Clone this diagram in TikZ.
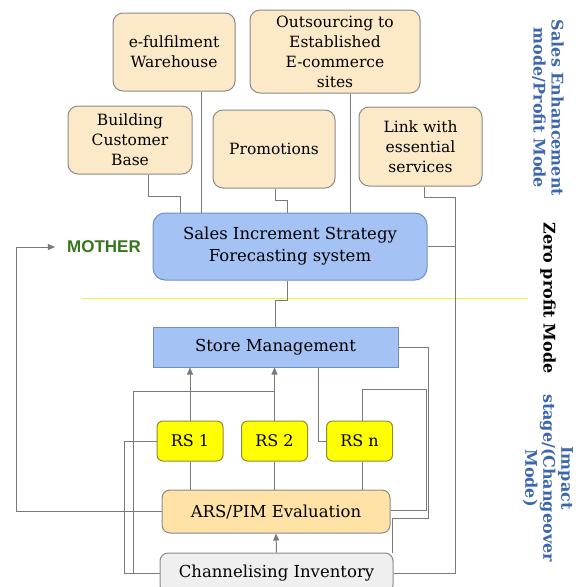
\documentclass[tikz,border=0pt]{standalone}
\usepackage{fontspec}
\setmainfont{DejaVu Serif}
\setsansfont{Liberation Sans}
\usetikzlibrary{arrows.meta}
\definecolor{cream}{HTML}{FCE9C8}
\definecolor{skyfill}{HTML}{A4C2F4}
\definecolor{skyedge}{HTML}{6F8FC7}
\definecolor{rsfill}{HTML}{FFFF00}
\definecolor{rsedge}{HTML}{8C8C3C}
\definecolor{arsfill}{HTML}{FFE2A6}
\definecolor{chanfill}{HTML}{EFEFEF}
\definecolor{edge}{HTML}{8A8A8A}
\definecolor{wire}{HTML}{7A7A7A}
\definecolor{mothergreen}{HTML}{38761D}
\definecolor{modeblue}{HTML}{3C66AD}
\definecolor{zeroline}{HTML}{F7F040}
\newcommand{\offer}[5]{%
 \node[offer, minimum width=#3, minimum height=#4] ({#1}) at ({#2}) {#5};%
}
\newcommand{\rsbox}[3]{%
 \node[rs] ({#1}) at ({#2}) {#3};%
}
\tikzset{
 offer/.style={draw=edge, line width=1pt, fill=cream, rounded corners=10pt, align=center, inner sep=0pt,
  font=\fontsize{15.5}{20}\selectfont},
 rs/.style={draw=rsedge, line width=1pt, fill=rsfill, rounded corners=6pt, minimum width=66pt, minimum height=40pt,
  inner sep=0pt, font=\fontsize{16}{18}\selectfont},
 wire/.style={draw=wire, line width=1pt},
 tip/.style={-{Triangle[width=6pt,length=7pt]}},
 mode/.style={rotate=-90, align=center, font=\fontsize{16}{18}\selectfont\bfseries},
}
\begin{document}
\begin{tikzpicture}[x=1pt,y=-1pt]
 \useasboundingbox (0,0) rectangle (583,587);
 % offers feeding the strategy
 \offer{warehouse}{174,52}{122pt}{78pt}{e-fulfilment\\Warehouse}
 \offer{outsource}{335,51.5}{170pt}{83pt}{Outsourcing to\\Established\\E-commerce\\sites}
 \offer{custbase}{130,140}{124pt}{68pt}{Building\\Customer\\Base}
 \offer{promo}{274,149}{122pt}{78pt}{Promotions}
 \offer{link}{420.5,146.5}{123pt}{79pt}{Link with\\essential\\services}
 \node[draw=skyedge, line width=1pt, fill=skyfill, rounded corners=12pt, minimum width=274pt, minimum height=67pt,
  align=center, inner sep=0pt, font=\fontsize{16.5}{22}\selectfont] (sales) at (290,246.5)
  {Sales Increment Strategy\\Forecasting system};
 \node[text=mothergreen, font=\sffamily\bfseries\fontsize{17}{17}\selectfont, inner sep=0pt] (mother) at (104,247) {MOTHER};
 \draw[zeroline, line width=1pt] (82,298) -- (528,298);
 % store level
 \node[draw=skyedge, line width=1pt, fill=skyfill, minimum width=245pt, minimum height=40pt, inner sep=0pt,
  font=\fontsize{16.5}{18}\selectfont] (store) at (275.5,347) {Store Management};
 \rsbox{rs1}{190,441}{RS 1}
 \rsbox{rs2}{274.5,441}{RS 2}
 \rsbox{rsn}{359.5,441}{RS n}
 \node[draw=edge, line width=1pt, fill=arsfill, rounded corners=8pt, minimum width=228pt, minimum height=43pt,
  inner sep=0pt, font=\fontsize{16.5}{18}\selectfont] (ars) at (276,511.5) {ARS/PIM Evaluation};
 \node[draw=edge, line width=1pt, fill=chanfill, rounded corners=8pt, minimum width=233pt, minimum height=40pt,
  inner sep=0pt, font=\fontsize{16.5}{18}\selectfont] (chan) at (276.5,573) {Channelising Inventory};
 % side captions
 \node[mode, text=modeblue] (profit) at (548,108) {Sales Enhancement\\mode/Profit Mode};
 \node[mode] (zero) at (548,298) {Zero profit Mode};
 \node[mode, text=modeblue] (impact) at (548,478) {Impact\\stage/(Changeover\\Mode)};
 \coordinate (rbus) at (455,573);
 \coordinate (lbus) at (133,391);
 \coordinate (sbend) at (392,518);
 % connectors
 \draw[wire] ([xshift=18pt]custbase.south) -- ++(0,22) -| ([xshift=-110pt]sales.north);
 \draw[wire] ([xshift=27pt]warehouse.south) -- ([xshift=27pt]warehouse.south |- sales.north);
 \draw[wire] ([xshift=1pt]promo.south) -- ++(0,12) -| ([xshift=-3pt]sales.north);
 \draw[wire] ([xshift=15pt]outsource.south) -- ([xshift=15pt]outsource.south |- sales.north);
 \draw[wire] ([xshift=3.5pt]link.south) -- ++(0,11) -| (rbus) -- (chan.east);
 \draw[wire] (sales.east) -- (sales.east -| rbus);
 \draw[wire] ([xshift=-3pt]sales.south) -- ++(0,20) -| (store.north);
 \draw[wire] (store.east) -- ++(30,0) |- (sbend) -- (sbend |- chan.north);
 \draw[wire] ([xshift=2.5pt]rsn.north) -- ++(0,-31) -- ++(64,0) |- ([yshift=1.5pt]ars.east);
 \draw[wire] ([xshift=42.5pt]store.south) |- (rsn.west);
 \draw[wire, tip] (rs1.north) -- (rs1.north |- store.south);
 \draw[wire, tip] (rs2.north) -- (rs2.north |- store.south);
 \draw[wire] (chan.west) -| (lbus) -- (lbus -| rs2.north);
 \draw[wire] (rs1.west) -- ++(-32,0) |- (chan.west);
 \draw[wire] (rs1.south) -- (rs1.south |- ars.north);
 \draw[wire] (rs2.south) -- (rs2.south |- ars.north);
 \draw[wire] ([xshift=2.5pt]rsn.south) -- ([xshift=2.5pt]rsn.south |- ars.north);
 \draw[wire, tip] (chan.north) -- (ars.south);
 \draw[wire, tip, shorten >=12pt] (ars.west) -- ++(-145,0) |- (mother.west);
\end{tikzpicture}
\end{document}
